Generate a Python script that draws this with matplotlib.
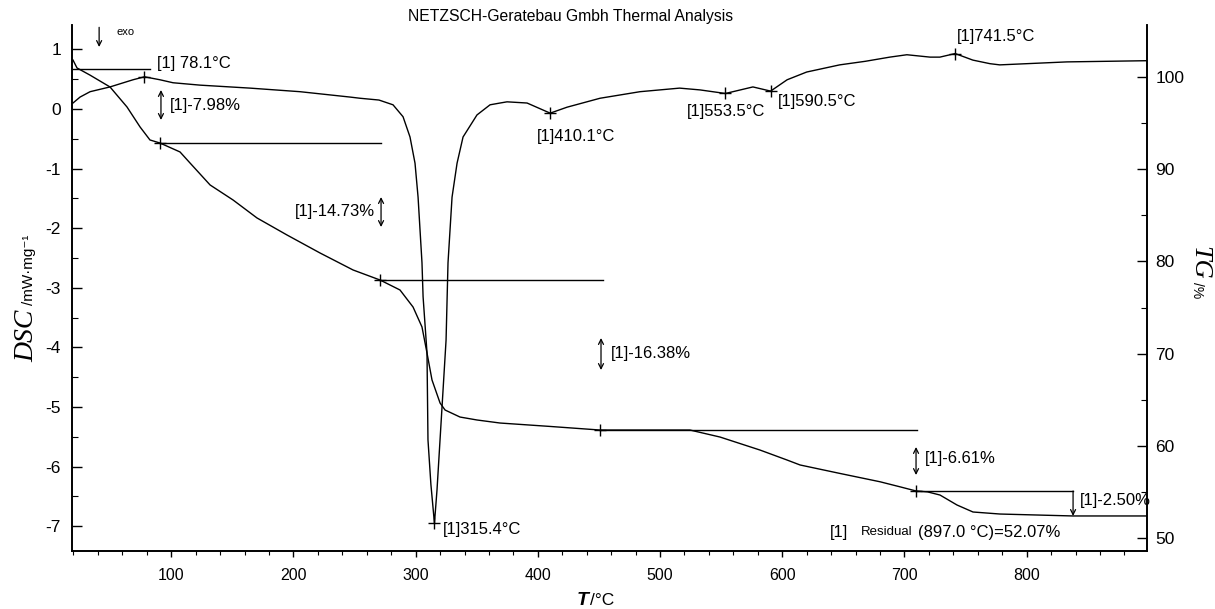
import matplotlib
matplotlib.use("Agg")
import matplotlib.pyplot as plt
import numpy as np

plt.rcParams['font.family'] = ['Liberation Sans', 'DejaVu Sans']
plt.rcParams['axes.unicode_minus'] = False

# DSC curve (mW/mg) against temperature (°C)
dsc_T = [19.6, 25.4, 33.6, 49.9, 68.7, 78.1, 90.8, 101.5, 123.6, 164.5, 205.4, 246.3,
         254.5, 270.0, 281.5, 289.7, 295.4, 299.5, 302.0, 305.2, 306.1, 309.3, 310.1,
         312.5, 315.4, 317.5, 321.6, 324.9, 326.5, 329.8, 333.9, 338.8, 350.2, 360.9,
         369.1, 374.8, 391.2, 410.1, 423.9, 450.9, 483.6, 516.0, 532.7, 553.5, 576.0,
         590.5, 604.0, 620.0, 647.0, 668.0, 688.0, 702.0, 721.0, 729.0, 741.5, 756.0,
         770.0, 778.0, 833.0, 898.5]
dsc_V = [0.10, 0.20, 0.29, 0.37, 0.49, 0.54, 0.49, 0.44, 0.40, 0.35, 0.29, 0.20,
         0.18, 0.15, 0.07, -0.13, -0.47, -0.91, -1.48, -2.58, -3.15, -4.09, -5.55,
         -6.30, -6.95, -6.39, -5.00, -3.88, -2.58, -1.48, -0.91, -0.47, -0.10, 0.07,
         0.10, 0.12, 0.10, -0.07, 0.03, 0.18, 0.29, 0.35, 0.32, 0.26, 0.37,
         0.30, 0.49, 0.62, 0.74, 0.80, 0.87, 0.91, 0.87, 0.87, 0.93, 0.82,
         0.76, 0.74, 0.79, 0.81]

# TG curve (%) against temperature (°C)
tg_T = [19.6, 22.9, 33.6, 49.9, 63.8, 74.5, 82.6, 90.8, 107.2, 115.4, 131.8, 150.6,
        170.2, 194.8, 221.8, 248.8, 270.9, 287.2, 297.9, 305.2, 309.3, 313.4, 320.0,
        324.1, 336.3, 350.2, 369.1, 410.0, 450.9, 524.5, 549.1, 581.8, 603.9, 614.6,
        647.3, 680.0, 696.4, 709.5, 719.0, 729.1, 743.0, 756.1, 778.2, 837.9, 898.5]
tg_V = [101.84, 100.98, 100.20, 98.92, 96.75, 94.58, 93.17, 92.84, 91.87, 90.67, 88.29, 86.66,
        84.71, 82.86, 80.91, 79.07, 77.98, 76.90, 75.05, 72.89, 70.07, 67.14, 64.64,
        63.88, 63.12, 62.80, 62.47, 62.10, 61.71, 61.71, 60.95, 59.54, 58.46, 57.92,
        57.00, 56.10, 55.55, 55.10, 55.00, 54.66, 53.58, 52.82, 52.60, 52.39, 52.39]

# step-analysis baselines on the TG curve
step_start = [19.6, 90.8, 270.9, 450.9, 709.5]
step_end = [83.0, 271.7, 453.0, 710.0, 838.0]
step_level = [100.87, 92.84, 77.98, 61.71, 55.10]
step_labels = ["[1]-7.98%", "[1]-14.73%", "[1]-16.38%", "[1]-6.61%", "[1]-2.50%"]
residual_level = 52.39

# DSC peak temperatures
peak_T = [78.1, 315.4, 410.1, 553.5, 590.5, 741.5]

fig = plt.figure(figsize=(12.15, 6.09), dpi=100)
ax = fig.add_axes([72 / 1215, 1 - 551 / 609, (1147 - 72) / 1215, (551 - 25) / 609])
ax2 = ax.twinx()

ax.plot(dsc_T, dsc_V, color='black', lw=1.0)
ax2.plot(tg_T, tg_V, color='black', lw=1.0)

for s, e, lv in zip(step_start, step_end, step_level):
    ax2.plot([s, e], [lv, lv], color='black', lw=1.0)
ax2.plot(step_start[1:], step_level[1:], ls='none', marker='+', ms=8, mew=1.0, color='black')

peak_V = np.interp(peak_T, dsc_T, dsc_V)
ax.plot(peak_T, peak_V, ls='none', marker='+', ms=8, mew=1.0, color='black')

ax.set_xlim(18.8, 898.5)
ax.set_ylim(-7.416, 1.409)
ax2.set_ylim(48.59, 105.64)

ax.set_xticks(np.arange(100, 900, 100))
ax.set_xticks(np.arange(20, 900, 20), minor=True)
ax.set_yticks(np.arange(-7, 2, 1))
ax.set_yticks(np.arange(-7, 1.5, 0.5), minor=True)
ax2.set_yticks(np.arange(50, 101, 10))
ax2.set_yticks(np.arange(50, 105, 5), minor=True)

ax.tick_params(axis='x', direction='out', length=4, width=1, labelsize=11.5, pad=8)
ax.tick_params(axis='x', which='minor', direction='out', length=3, width=0.8)
ax.tick_params(axis='y', direction='in', length=7, width=1, labelsize=12.5, pad=8)
ax.tick_params(axis='y', which='minor', direction='in', length=4, width=0.8)
ax2.tick_params(axis='y', direction='in', length=7, width=1, labelsize=12.5, pad=6)
ax2.tick_params(axis='y', which='minor', direction='in', length=4, width=0.8)

for a in (ax, ax2):
    a.spines['top'].set_visible(False)
    for sp in ('left', 'right', 'bottom'):
        a.spines[sp].set_linewidth(1.2)

fs = 12
# DSC peak labels
ax.text(88.4, 0.755, "[1] 78.1°C", fontsize=fs, va='center')
ax.text(322.4, -7.05, "[1]315.4°C", fontsize=fs, va='center')
ax.text(399.3, -0.47, "[1]410.1°C", fontsize=fs, va='center')
ax.text(522.0, -0.05, "[1]553.5°C", fontsize=fs, va='center')
ax.text(596.6, 0.12, "[1]590.5°C", fontsize=fs, va='center')
ax.text(743.0, 1.21, "[1]741.5°C", fontsize=fs, va='center')

arrow = dict(arrowstyle='<->', lw=0.9, color='black', shrinkA=0, shrinkB=0, mutation_scale=9)
# TG step labels
ax2.annotate('', xy=(91.6, 95.34), xytext=(91.6, 98.59), arrowprops=arrow)
ax2.text(99.0, 96.96, step_labels[0], fontsize=fs, va='center')
ax2.annotate('', xy=(271.7, 83.73), xytext=(271.7, 86.98), arrowprops=arrow)
ax2.text(266.8, 85.36, step_labels[1], fontsize=fs, va='center', ha='right')
ax2.annotate('', xy=(451.7, 68.22), xytext=(451.7, 71.69), arrowprops=arrow)
ax2.text(460.0, 69.96, step_labels[2], fontsize=fs, va='center')
ax2.annotate('', xy=(709.5, 56.83), xytext=(709.5, 59.87), arrowprops=arrow)
ax2.text(716.8, 58.57, step_labels[3], fontsize=fs, va='center')
ax2.annotate('', xy=(step_end[4], residual_level), xytext=(step_end[4], step_level[4]),
             arrowprops=dict(arrowstyle='->', lw=0.9, color='black', shrinkA=0, shrinkB=0,
                             mutation_scale=9))
ax2.text(843.7, 54.12, step_labels[4], fontsize=fs, va='center')

ax2.text(639.0, 50.65, "[1]", fontsize=fs, va='center')
ax2.text(664.0, 50.65, "Residual", fontsize=9.5, va='center')
ax2.text(711.0, 50.65, "(897.0 °C)=52.07%", fontsize=fs, va='center')

# exo direction
ax.annotate('', xy=(41, 1.04), xytext=(41, 1.37),
            arrowprops=dict(arrowstyle='->', lw=0.9, color='black', shrinkA=0, shrinkB=0,
                            mutation_scale=9))
ax.text(55.6, 1.29, "exo", fontsize=8, va='center')

fig.text(571 / 1215, 1 - 17 / 609, "NETZSCH-Geratebau Gmbh Thermal Analysis",
         fontsize=11.3, ha='center', va='center')

# axis labels
fig.text(33 / 1215, 1 - 362 / 609, "DSC", family='Liberation Serif', style='italic',
         fontsize=20, rotation=90, rotation_mode='anchor', ha='left', va='baseline')
fig.text(33 / 1215, 1 - 305 / 609, "/mW·mg⁻¹", fontsize=11, rotation=90,
         rotation_mode='anchor', ha='left', va='baseline')
fig.text(1193 / 1215, 1 - 246 / 609, "TG", family='Liberation Serif', style='italic',
         fontsize=19, rotation=-90, rotation_mode='anchor', ha='left', va='baseline')
fig.text(1193 / 1215, 1 - 282 / 609, "/%", fontsize=10, rotation=-90,
         rotation_mode='anchor', ha='left', va='baseline')
fig.text(577 / 1215, 1 - 605 / 609, "T", fontsize=14, weight='bold', style='italic',
         ha='left', va='baseline')
fig.text(590 / 1215, 1 - 605 / 609, "/°C", fontsize=12.5, ha='left', va='baseline')

fig.savefig('out.png', dpi=100)
